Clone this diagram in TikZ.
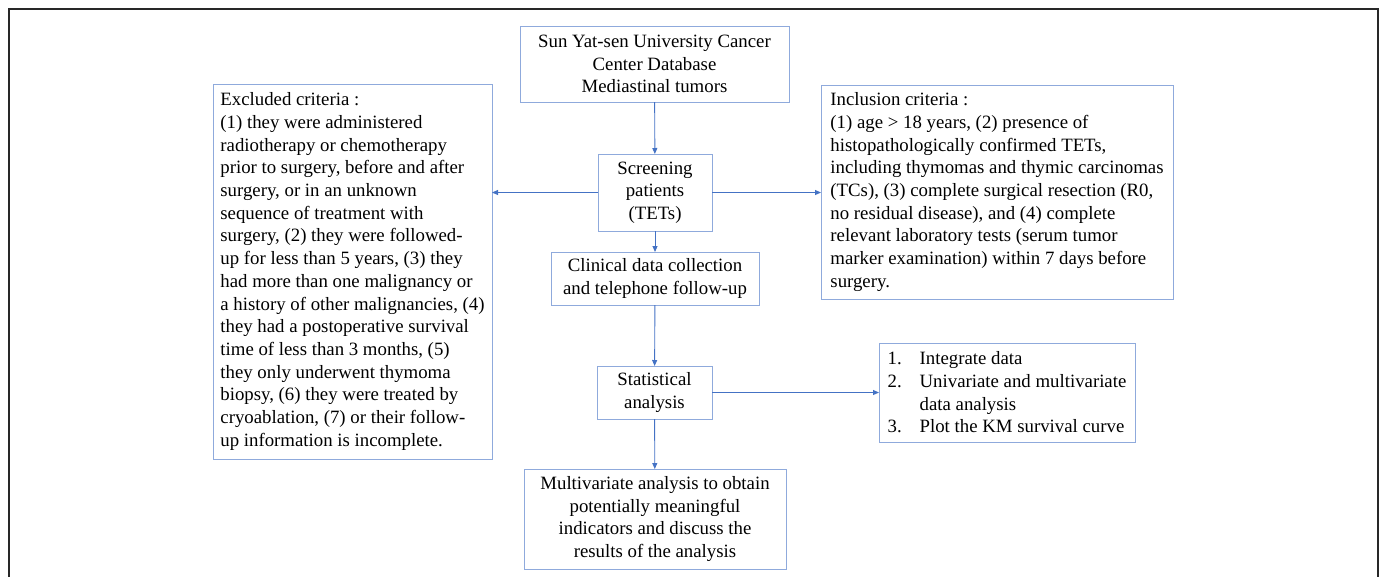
\documentclass[tikz,border=0pt]{standalone}
\usepackage{fontspec}
\setmainfont{Liberation Serif}
\usetikzlibrary{arrows.meta}
\definecolor{boxblue}{RGB}{143,170,220}
\definecolor{arrblue}{RGB}{68,114,196}
\definecolor{framegray}{RGB}{40,40,40}
\begin{document}
\begin{tikzpicture}[x=1pt,y=-1pt,
  every node/.style={font=\fontsize{18.8}{22.7}\selectfont},
  flowbox/.style={draw=boxblue, line width=1pt, inner sep=0pt, outer sep=0pt, align=center},
  listbox/.style={draw=boxblue, line width=1pt, inner sep=0pt, outer sep=0pt, align=left},
  arr/.style={draw=arrblue, line width=0.9pt, -{Triangle[length=6pt,width=5pt]}}
]
\useasboundingbox (0,0) rectangle (1383,576);
\draw[framegray, line width=1.4pt] (9,585) -- (9,9) -- (1378,9) -- (1378,585);

\node[flowbox, minimum width=269pt, minimum height=76pt] (db) at (654.5,64)
  {Sun Yat-sen University Cancer\\Center Database\\Mediastinal tumors};
\node[flowbox, minimum width=114pt, minimum height=77pt] (screen) at (655,192.5)
  {Screening\\patients\\(TETs)};
\node[flowbox, minimum width=208pt, minimum height=53pt] (clin) at (655,278.5)
  {Clinical data collection\\and telephone follow-up};
\node[flowbox, minimum width=115pt, minimum height=53pt] (stat) at (654.5,392.5)
  {Statistical\\analysis};
\node[flowbox, minimum width=262pt, minimum height=100pt] (multi) at (655,519)
  {Multivariate analysis to obtain\\potentially meaningful\\indicators and discuss the\\results of the analysis};

\node[listbox, minimum width=279pt, minimum height=375pt] (excl) at (352.5,271.5)
  {Excluded criteria :\\
   (1) they were administered\\
   radiotherapy or chemotherapy\\
   prior to surgery, before and after\\
   surgery, or in an unknown\\
   sequence of treatment with\\
   surgery, (2) they were followed-\\
   up for less than 5 years, (3) they\\
   had more than one malignancy or\\
   a history of other malignancies, (4)\\
   they had a postoperative survival\\
   time of less than 3 months, (5)\\
   they only underwent thymoma\\
   biopsy, (6) they were treated by\\
   cryoablation, (7) or their follow-\\
   up information is incomplete.};

\node[listbox, minimum width=352pt, minimum height=214pt] (incl) at (997,192)
  {Inclusion criteria :\\
   (1) age > 18 years, (2) presence of\\
   histopathologically confirmed TETs,\\
   including thymomas and thymic carcinomas\\
   (TCs), (3) complete surgical resection (R0,\\
   no residual disease), and (4) complete\\
   relevant laboratory tests (serum tumor\\
   marker examination) within 7 days before\\
   surgery.};

\node[listbox, minimum width=256pt, minimum height=99pt] (steps) at (1007,392.5)
  {\makebox[32pt][l]{1.}Integrate data\\
   \makebox[32pt][l]{2.}Univariate and multivariate\\
   \hspace*{32pt}data analysis\\
   \makebox[32pt][l]{3.}Plot the KM survival curve};

\draw[arr] (db) -- (screen);
\draw[arr] (screen) -- (clin);
\draw[arr] (clin) -- (stat);
\draw[arr] (stat) -- (multi);
\draw[arr] (screen.west) -- (screen.west -| excl.east);
\draw[arr] (screen.east) -- (screen.east -| incl.west);
\draw[arr] (stat.east) -- (stat.east -| steps.west);
\end{tikzpicture}
\end{document}
